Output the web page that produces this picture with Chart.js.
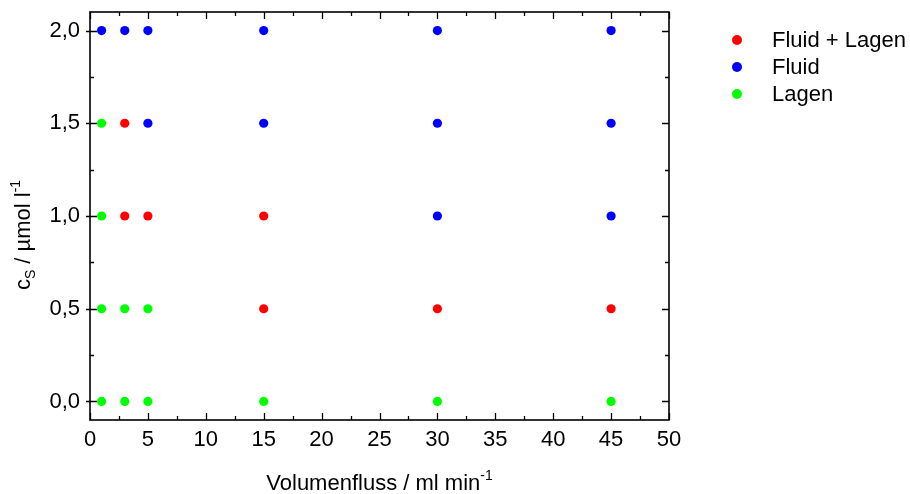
<!DOCTYPE html>
<html>
<head>
<meta charset="utf-8">
<script src="https://cdn.jsdelivr.net/npm/chart.js@4/dist/chart.umd.min.js"></script>
<style>
  html, body { margin: 0; padding: 0; background: #fff; }
  #wrap { width: 910px; height: 494px; }
</style>
</head>
<body>
<div id="wrap"><canvas id="c" width="910" height="494"></canvas></div>
<script>
// Flow rate (ml/min) and concentration (µmol/l) for each observed regime
const fluidLagenX = [3, 3, 5, 15, 15, 30, 45];
const fluidLagenY = [1.5, 1.0, 1.0, 1.0, 0.5, 0.5, 0.5];

const fluidX = [1, 3, 5, 15, 30, 45, 5, 15, 30, 45, 30, 45];
const fluidY = [2.0, 2.0, 2.0, 2.0, 2.0, 2.0, 1.5, 1.5, 1.5, 1.5, 1.0, 1.0];

const lagenX = [1, 1, 1, 3, 5, 1, 3, 5, 15, 30, 45];
const lagenY = [1.5, 1.0, 0.5, 0.5, 0.5, 0.0, 0.0, 0.0, 0.0, 0.0, 0.0];

const seriesNames = ['Fluid + Lagen', 'Fluid', 'Lagen'];
const seriesColors = ['#ff0000', '#0000ff', '#00ff00'];

const xTicks = [0, 5, 10, 15, 20, 25, 30, 35, 40, 45, 50];
const yTicks = [0.0, 0.5, 1.0, 1.5, 2.0];

const FONT = '"Liberation Sans", Arial, sans-serif';
const FS = 22;

function pts(xs, ys) { return xs.map((x, i) => ({ x: x, y: ys[i] })); }

const datasets = [
  pts(fluidLagenX, fluidLagenY),
  pts(fluidX, fluidY),
  pts(lagenX, lagenY)
].map((d, i) => ({
  label: seriesNames[i],
  data: d,
  backgroundColor: seriesColors[i],
  borderColor: seriesColors[i],
  borderWidth: 0,
  pointRadius: 4.6,
  pointHoverRadius: 4.6
}));

function fmt(v) { return v.toFixed(1).replace('.', ','); }

// Draws text made of runs with sub/superscript offsets
function richText(ctx, runs, x, y, align) {
  let total = 0;
  runs.forEach(r => { ctx.font = r.size + 'px ' + FONT; total += ctx.measureText(r.t).width; });
  let cx = align === 'center' ? x - total / 2 : x;
  runs.forEach(r => {
    ctx.font = r.size + 'px ' + FONT;
    ctx.fillText(r.t, cx, y + (r.dy || 0));
    cx += ctx.measureText(r.t).width;
  });
}

const framePlugin = {
  id: 'frame',
  afterDatasetsDraw(chart) {
    const ctx = chart.ctx;
    const a = chart.chartArea;
    const xs = chart.scales.x, ys = chart.scales.y;
    ctx.save();
    ctx.strokeStyle = '#000';
    ctx.lineWidth = 1.6;
    ctx.strokeRect(a.left, a.top, a.right - a.left, a.bottom - a.top);
    ctx.lineWidth = 1.3;
    ctx.beginPath();
    // x ticks (major + minor), bottom and top, pointing inward
    for (let v = 0; v <= 50; v += 2.5) {
      const px = Math.round(xs.getPixelForValue(v)) + 0.5;
      const major = v % 5 === 0;
      const len = major ? 7 : 4;
      ctx.moveTo(px, a.bottom); ctx.lineTo(px, a.bottom - len);
      ctx.moveTo(px, a.top); ctx.lineTo(px, a.top + len);
    }
    // y ticks (major + minor), left and right
    for (let v = 0; v <= 2.0001; v += 0.25) {
      const py = Math.round(ys.getPixelForValue(v)) + 0.5;
      const major = Math.abs(v * 2 - Math.round(v * 2)) < 1e-6;
      const len = major ? 7 : 4;
      ctx.moveTo(a.left - (major ? 4 : 0), py); ctx.lineTo(a.left + len, py);
      ctx.moveTo(a.right, py); ctx.lineTo(a.right - len, py);
    }
    ctx.stroke();

    // axis titles
    ctx.fillStyle = '#000';
    ctx.textBaseline = 'alphabetic';
    richText(ctx, [
      { t: 'Volumenfluss / ml min', size: FS },
      { t: '-1', size: 14, dy: -10 }
    ], (a.left + a.right) / 2, 490, 'center');

    ctx.save();
    ctx.translate(30, 235);
    ctx.rotate(-Math.PI / 2);
    richText(ctx, [
      { t: 'c', size: FS },
      { t: 'S', size: 14, dy: 5 },
      { t: ' / µmol l', size: FS },
      { t: '-1', size: 14, dy: -10 }
    ], 0, 0, 'center');
    ctx.restore();

    // legend
    ctx.font = FS + 'px ' + FONT;
    ctx.textBaseline = 'middle';
    chart.data.datasets.forEach((ds, i) => {
      const cy = 40 + i * 27;
      ctx.fillStyle = ds.backgroundColor;
      ctx.beginPath();
      ctx.arc(737, cy, 5, 0, Math.PI * 2);
      ctx.fill();
      ctx.fillStyle = '#000';
      ctx.fillText(ds.label, 772, cy + 1);
    });
    ctx.restore();
  }
};

new Chart(document.getElementById('c'), {
  type: 'scatter',
  data: { datasets: datasets },
  options: {
    responsive: false,
    animation: false,
    devicePixelRatio: 1,
    layout: { padding: { left: 0, top: 12, right: 241, bottom: 0 } },
    plugins: { legend: { display: false }, tooltip: { enabled: false } },
    scales: {
      x: {
        type: 'linear',
        min: 0, max: 50,
        afterBuildTicks: s => { s.ticks = xTicks.map(v => ({ value: v })); },
        afterFit: s => { s.height = 74; s.paddingLeft = 0; s.paddingRight = 0; },
        grid: { display: false, drawTicks: false },
        border: { display: false },
        ticks: {
          padding: 7,
          color: '#000',
          font: { family: FONT, size: FS },
          maxRotation: 0,
          callback: v => String(v)
        }
      },
      y: {
        type: 'linear',
        min: -0.1, max: 2.1,
        afterBuildTicks: s => { s.ticks = yTicks.map(v => ({ value: v })); },
        afterFit: s => { s.width = 90; s.paddingTop = 0; s.paddingBottom = 0; },
        grid: { display: false, drawTicks: false },
        border: { display: false },
        ticks: {
          padding: 10,
          color: '#000',
          font: { family: FONT, size: FS },
          callback: v => fmt(v)
        }
      }
    }
  },
  plugins: [framePlugin]
});
</script>
</body>
</html>
